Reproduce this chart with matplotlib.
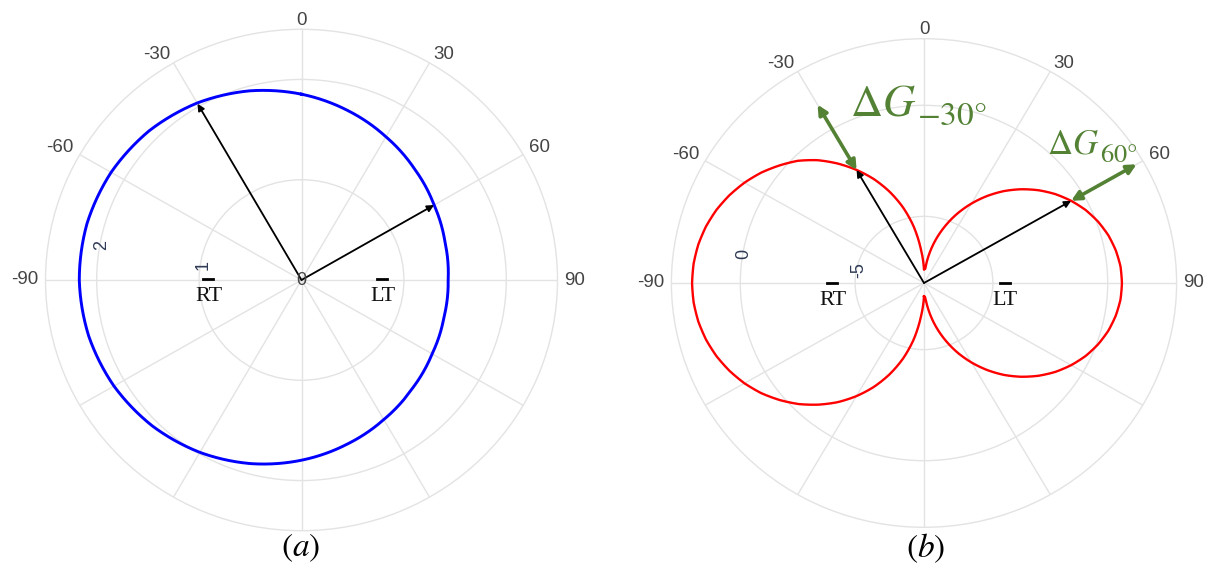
import numpy as np
import matplotlib
matplotlib.use('Agg')
import matplotlib.pyplot as plt
from matplotlib.lines import Line2D

# ---------------- data ----------------
# (a) blue pattern, angle in degrees (clockwise from top)
theta_a = [0, 15, 30, 45, 60, 75, 90, 105, 120, 135, 150, 165, 180,
           195, 210, 225, 240, 255, 270, 285, 300, 315, 330, 345, 360]
r_a = [1.853, 1.749, 1.649, 1.563, 1.495, 1.451, 1.432, 1.440, 1.473, 1.530,
       1.607, 1.698, 1.797, 1.896, 1.985, 2.059, 2.115, 2.152, 2.170, 2.169,
       2.147, 2.104, 2.038, 1.953, 1.853]

# (b) red pattern
theta_b = [-180, -175, -170, -165, -160, -155, -150, -145, -140, -135, -130, -125,
           -120, -115, -110, -105, -100, -95, -90, -85, -80, -75, -70, -65,
           -60, -55, -50, -45, -40, -35, -30, -25, -20, -15, -10, -5, 0,
           5, 10, 15, 20, 25, 30, 35, 40, 45, 50, 55, 60, 65, 70, 75, 80, 85,
           90, 95, 100, 105, 110, 115, 120, 125, 130, 135, 140, 145, 150, 155,
           160, 165, 170, 175, 180]
r_b = [-7.40, -6.49, -5.42, -4.48, -3.63, -2.84, -2.12, -1.45, -0.85, -0.29, 0.20, 0.65,
       1.03, 1.35, 1.62, 1.83, 1.98, 2.07, 2.10, 2.07, 1.98, 1.83, 1.62, 1.35,
       1.03, 0.66, 0.23, -0.22, -0.78, -1.43, -2.12, -2.84, -3.63, -4.48, -5.42, -6.49, -7.40,
       -7.35, -6.65, -5.94, -5.24, -4.54, -3.87, -3.22, -2.60, -2.03, -1.50, -1.02, -0.60,
       -0.23, 0.07, 0.31, 0.48, 0.59,
       0.62, 0.59, 0.48, 0.31, 0.07, -0.23, -0.60, -1.02, -1.50, -2.03, -2.60, -3.22,
       -3.87, -4.54, -5.24, -5.94, -6.65, -7.35, -7.40]

grid_angles = [0, 30, 60, 90, 120, 150, 180, 210, 240, 270, 300, 330]
angle_ticks = [0, 30, 60, 90, -30, -60, -90]
angle_labels = ['0', '30', '60', '90', '-30', '-60', '-90']

rrange_a = [0, 2.5]
rgrid_a = [1, 2]
rlabels_a = ['1', '2']
rlabel_theta_a = [-81.1, -79.9]
rlabel_r_a = [0.97, 1.98]

rrange_b = [-8, 3]
rgrid_b = [-5, 0]
rlabels_b = ['-5', '0']
rlabel_theta_b = [-78.4, -80.4]
rlabel_r_b = [-5.08, -0.02]

arrow_angles = [-30, 60]
arrow_r_a = [2.03, 1.495]
arrow_r_b = [-2.13, -0.60]
dG_outer_b = [1.27, 2.69]
dG_main = r'$\Delta G$'
dG_subs = [r'$-30°$', r'$60°$']

# ---------------- styling ----------------
plt.rcParams['font.family'] = ['Liberation Sans', 'DejaVu Sans']
plt.rcParams['mathtext.fontset'] = 'stix'

W, H = 1208, 570
fig = plt.figure(figsize=(W / 100, H / 100), dpi=100)
fig.patch.set_facecolor('white')

GRID = '#e3e3e3'
TICK = '#444444'
RLAB = '#2f3b55'
GREEN = '#548235'


def fx(x):
    return x / W


def fy(y):
    return 1 - y / H


def rect(cx, cy, hw, hh):
    return [(cx - hw) / W, (H - (cy + hh)) / H, 2 * hw / W, 2 * hh / H]


def setup(ax, rr, rgrid):
    ax.set_theta_zero_location('N')
    ax.set_theta_direction(-1)
    ax.set_aspect('auto')
    ax.set_ylim(rr[0], rr[1])
    ax.set_xticks(np.deg2rad(grid_angles))
    ax.set_xticklabels([''] * len(grid_angles))
    ax.set_yticks(rgrid)
    ax.set_yticklabels([''] * len(rgrid))
    ax.grid(True, color=GRID, lw=1.0)
    ax.spines['polar'].set_color(GRID)
    ax.spines['polar'].set_linewidth(1.0)
    ax.tick_params(length=0, pad=0)
    for ang, lab in zip(angle_ticks, angle_labels):
        rad = np.deg2rad(ang)
        sx, sy = np.sin(rad), np.cos(rad)
        ha = 'left' if sx > 0.3 else ('right' if sx < -0.3 else 'center')
        if sy > 0.3:
            va, oy = 'baseline', 3.2 * sy
        else:
            va, oy = 'center', 0.0
        ax.annotate(lab, xy=(rad, rr[1]), xytext=(5 * sx, oy),
                    textcoords='offset points', ha=ha, va=va,
                    fontsize=13.5, color=TICK, annotation_clip=False)


def smooth(line):
    # let the polar projection draw each segment in (theta, r) space
    line.get_path()._interpolation_steps = 40


# ---------------- (a) ----------------
axa = fig.add_axes(rect(301.5, 280, 256, 250.7), projection='polar')
setup(axa, rrange_a, rgrid_a)
la, = axa.plot(np.deg2rad(theta_a), r_a, color='#0000ff', lw=2.1, zorder=3)
smooth(la)
axa.text(0, 0, '0', ha='center', va='center', fontsize=13, color=TICK, zorder=5)
for lab, th, rp in zip(rlabels_a, rlabel_theta_a, rlabel_r_a):
    axa.text(np.deg2rad(th), rp, lab, rotation=90, ha='center', va='center',
             fontsize=13, color=RLAB, zorder=5)
for ang, rt in zip(arrow_angles, arrow_r_a):
    axa.annotate('', xy=(np.deg2rad(ang), rt), xytext=(np.deg2rad(ang), rrange_a[0]),
                 arrowprops=dict(arrowstyle='-|>', color='black', lw=1.3,
                                 mutation_scale=10, shrinkA=0, shrinkB=0), zorder=4)

# ---------------- (b) ----------------
axb = fig.add_axes(rect(924, 283, 252.6, 244.3), projection='polar')
setup(axb, rrange_b, rgrid_b)
lb, = axb.plot(np.deg2rad(theta_b), r_b, color='#ff0000', lw=1.7, zorder=3)
smooth(lb)
for lab, th, rp in zip(rlabels_b, rlabel_theta_b, rlabel_r_b):
    axb.text(np.deg2rad(th), rp, lab, rotation=90, ha='center', va='center',
             fontsize=13, color=RLAB, zorder=5)
for ang, rt, ro in zip(arrow_angles, arrow_r_b, dG_outer_b):
    rad = np.deg2rad(ang)
    axb.annotate('', xy=(rad, rt), xytext=(rad, rrange_b[0]),
                 arrowprops=dict(arrowstyle='-|>', color='black', lw=1.3,
                                 mutation_scale=10, shrinkA=0, shrinkB=0), zorder=4)
    axb.annotate('', xy=(rad, ro), xytext=(rad, rt),
                 arrowprops=dict(arrowstyle='<|-|>', color=GREEN, lw=2.6,
                                 mutation_scale=14, shrinkA=0, shrinkB=0),
                 annotation_clip=False, zorder=6)

# Delta G labels: main symbol plus a large, low subscript
renderer = fig.canvas.get_renderer()
dg_layout = [(850, 115, 32, 125, 24), (1047, 154, 25, 161.5, 19)]
for sub, (x0, base, fs, sbase, sfs) in zip(dG_subs, dg_layout):
    t = fig.text(fx(x0), fy(base), dG_main, color=GREEN, fontsize=fs,
                 ha='left', va='baseline')
    bb = t.get_window_extent(renderer=renderer)
    fig.text((bb.x1 + 1) / W, fy(sbase), sub, color=GREEN, fontsize=sfs,
             ha='left', va='baseline')

# ---------------- RT / LT markers ----------------
markers = [(208.3, 279.0, 209.3, 'RT'), (381.7, 279.0, 383.3, 'LT'),
           (831.7, 282.7, 833.3, 'RT'), (1005.0, 282.7, 1005.0, 'LT')]
for bx, by, tx, lab in markers:
    fig.add_artist(Line2D([fx(bx - 5), fx(bx + 5)], [fy(by), fy(by)],
                          color='black', lw=2.0, transform=fig.transFigure))
    fig.text(fx(tx), fy(by + 17.5), lab, ha='center', va='center',
             fontsize=16, family='Liberation Serif', color='#111111')

# ---------------- panel labels ----------------
fig.text(fx(301), fy(548), r'$(a)$', ha='center', va='center', fontsize=24)
fig.text(fx(926), fy(548), r'$(b)$', ha='center', va='center', fontsize=24)

fig.savefig('out.png', dpi=100)
